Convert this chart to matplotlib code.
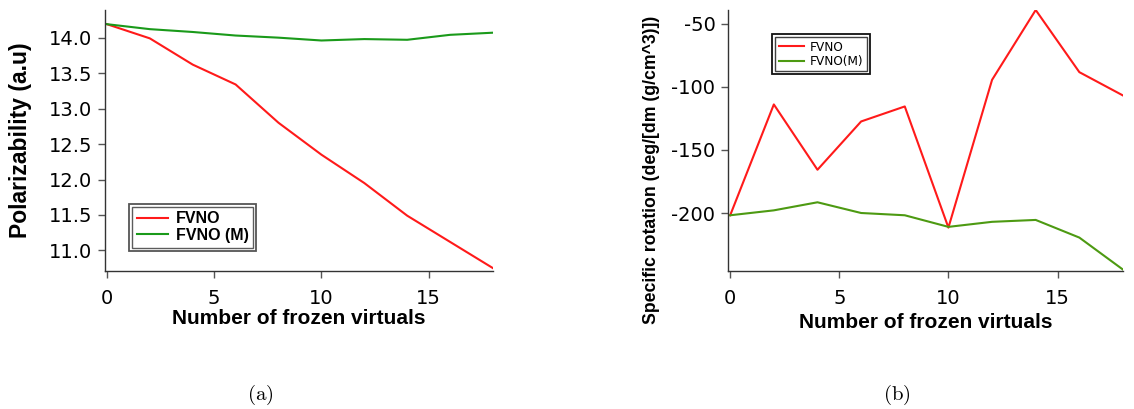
import matplotlib
matplotlib.use("Agg")
import matplotlib.pyplot as plt
from matplotlib.patches import Rectangle

# ---- data ----
frozen = [0, 2, 4, 6, 8, 10, 12, 14, 16, 18]
pol_fvno = [14.19, 13.99, 13.62, 13.34, 12.80, 12.35, 11.95, 11.49, 11.12, 10.75]
pol_fvno_m = [14.19, 14.12, 14.08, 14.03, 14.00, 13.96, 13.98, 13.97, 14.04, 14.07]
rot_fvno = [-201.8, -113.9, -165.7, -127.4, -115.5, -211.6, -94.4, -39.0, -88.3, -106.8]
rot_fvno_m = [-201.8, -197.9, -191.5, -200.0, -201.8, -211.0, -207.0, -205.5, -219.5, -244.9]
xticks = [0, 5, 10, 15]
yticks_a = [11.0, 11.5, 12.0, 12.5, 13.0, 13.5, 14.0]
yticks_b = [-200, -150, -100, -50]

plt.rcParams['mathtext.fontset'] = 'cm'
fig = plt.figure(figsize=(11.34, 4.09), dpi=100)
W, H = 1134, 409

def ax_rect(l, r, t, b):
    return [l / W, 1 - b / H, (r - l) / W, (b - t) / H]

def fig_pt(x, y):
    return (x / W, 1 - y / H)

axa = fig.add_axes(ax_rect(105, 493, 10, 271))
axb = fig.add_axes(ax_rect(728, 1123, 10, 271))

tickfont = dict(family='DejaVu Sans', size=14)
labfont = dict(family='Liberation Sans', weight='bold')

for ax in (axa, axb):
    for s in ('top', 'right'):
        ax.spines[s].set_visible(False)
    for s in ('left', 'bottom'):
        ax.spines[s].set_color('#333333')
        ax.spines[s].set_linewidth(1.0)
    ax.tick_params(direction='out', length=5, width=1.0, color='#555555', pad=4)
    ax.tick_params(axis='x', pad=8)
    ax.set_xticks(xticks)

# (a)
axa.plot(frozen, pol_fvno, color='#ff1a1a', lw=1.5, label='FVNO')
axa.plot(frozen, pol_fvno_m, color='#1a9a1a', lw=1.5, label='FVNO (M)')
axa.set_xlim(-0.09, 18)
axa.set_ylim(10.71, 14.39)
axa.set_yticks(yticks_a)
axa.set_yticklabels([f"{v:.1f}" for v in yticks_a], **tickfont)
axa.set_xticklabels([str(v) for v in xticks], **tickfont)
axa.set_xlabel('Number of frozen virtuals', fontsize=15, **labfont)
axa.set_ylabel('Polarizability (a.u)', fontsize=16.5, **labfont)
axa.xaxis.set_label_coords(*fig_pt(299, 318), transform=fig.transFigure)
axa.xaxis.label.set(va='center', ha='center')
axa.yaxis.set_label_coords(*fig_pt(21, 140), transform=fig.transFigure)
axa.yaxis.label.set(va='center', ha='center')
lega = axa.legend(loc='upper left', bbox_to_anchor=(0.05, 0.277), frameon=True,
                  fancybox=False, edgecolor='#333333', borderpad=0.3,
                  handlelength=1.9, labelspacing=0.1, handletextpad=0.5,
                  prop=dict(family='Liberation Sans', weight='bold', size=11.5))
lega.get_frame().set_linewidth(1.0)

# (b)
axb.plot(frozen, rot_fvno, color='#ff1a1a', lw=1.5, label='FVNO')
axb.plot(frozen, rot_fvno_m, color='#4d9a12', lw=1.5, label='FVNO(M)')
axb.set_xlim(-0.1, 18)
axb.set_ylim(-246, -39)
axb.set_yticks(yticks_b)
axb.set_yticklabels([str(v) for v in yticks_b], **tickfont)
axb.set_xticklabels([str(v) for v in xticks], **tickfont)
axb.set_xlabel('Number of frozen virtuals', fontsize=15, **labfont)
axb.set_ylabel('Specific rotation (deg/[dm (g/cm^3)])', fontsize=12.7, **labfont)
axb.xaxis.set_label_coords(*fig_pt(926, 323), transform=fig.transFigure)
axb.xaxis.label.set(va='center', ha='center')
axb.yaxis.set_label_coords(*fig_pt(652, 170), transform=fig.transFigure)
axb.yaxis.label.set(va='center', ha='center')
legb = axb.legend(loc='upper left', bbox_to_anchor=(0.104, 0.92), frameon=True,
                  fancybox=False, edgecolor='#111111', borderpad=0.3,
                  handlelength=2.1, labelspacing=0.1, handletextpad=0.5,
                  prop=dict(family='DejaVu Sans', size=8.7))
legb.get_frame().set_linewidth(1.0)

# double borders around legends
fig.canvas.draw()
inv = fig.transFigure.inverted()
for leg, col in ((lega, '#555555'), (legb, '#111111')):
    bb = leg.get_window_extent()
    pad = 3
    x0, y0 = inv.transform((bb.x0 - pad, bb.y0 - pad))
    x1, y1 = inv.transform((bb.x1 + pad, bb.y1 + pad))
    fig.add_artist(Rectangle((x0, y0), x1 - x0, y1 - y0, transform=fig.transFigure,
                             fill=False, edgecolor=col, lw=1.3))

fig.text(260 / W, 1 - 395 / H, r'$\mathrm{(a)}$', ha='center', va='center', fontsize=15)
fig.text(897 / W, 1 - 395 / H, r'$\mathrm{(b)}$', ha='center', va='center', fontsize=15)

fig.savefig('out.png', dpi=100)
